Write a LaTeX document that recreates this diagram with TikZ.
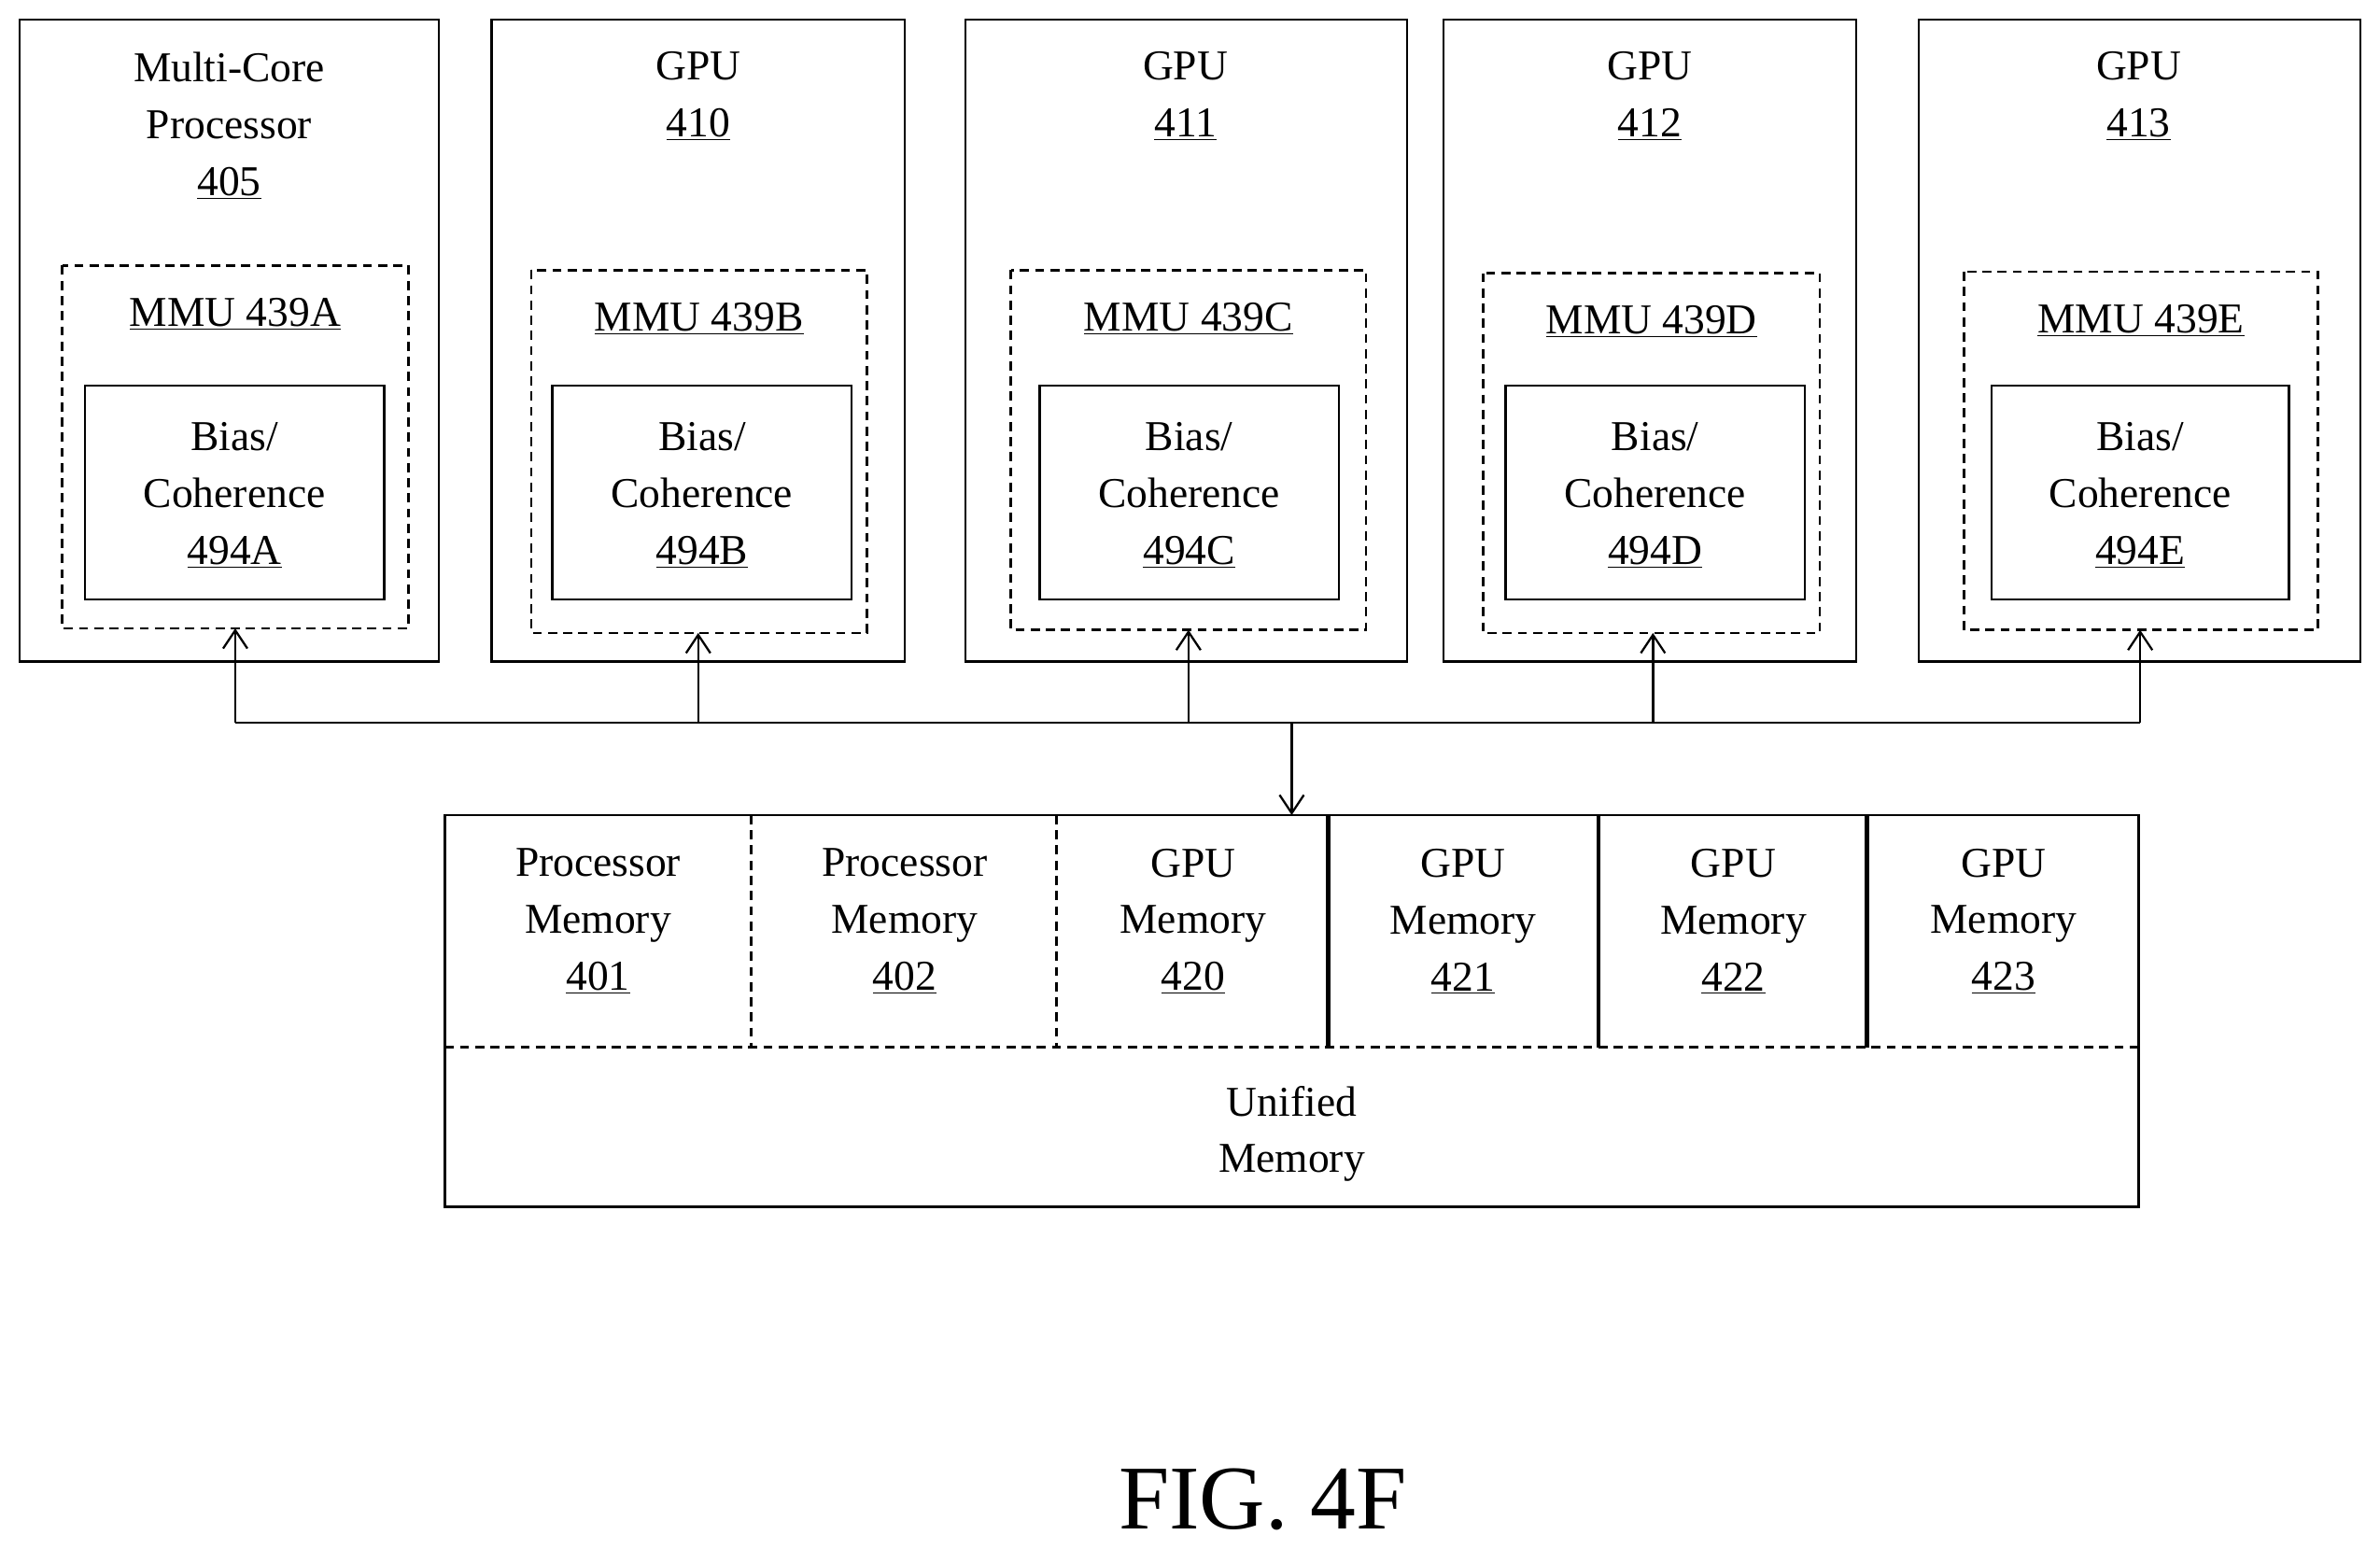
\documentclass[tikz,border=0pt]{standalone}
\usepackage{fontspec}
\setmainfont{Liberation Serif}
\usetikzlibrary{arrows.meta}
\begin{document}
\begin{tikzpicture}[x=1pt,y=-1pt,
  box/.style={draw,line width=1.6pt},
  dbox/.style={draw,line width=1.6pt,dash pattern=on 6pt off 4pt},
  txt/.style={font=\fontsize{28}{37.5}\selectfont,align=center,inner sep=0pt},
  arr/.style={line width=1.6pt,-{Straight Barb[length=12pt,width=16pt,line width=1.4pt]}}]
\useasboundingbox (0,0) rectangle (1568,1020);
% outer boxes
\foreach \n/\a/\b in {p/13/289,g0/324/596,g1/636/927,g2/951/1223,g3/1264/1555}
  \draw[box] (\a,13) rectangle (\b,436) coordinate (\n-br);
\node[txt,anchor=north] (tp) at (151,34) {Multi-Core\\Processor\\\underline{405}};
\node[txt,anchor=north] (t0) at (460,34) {GPU\\\underline{410}};
\node[txt,anchor=north] (t1) at (781,34) {GPU\\\underline{411}};
\node[txt,anchor=north] (t2) at (1087,34) {GPU\\\underline{412}};
\node[txt,anchor=north] (t3) at (1409,34) {GPU\\\underline{413}};
% MMUs
\foreach \n/\a/\b/\t/\bo/\L/\c in {A/41/269/175/414/A/155,B/350/571/178/417/B/460,C/666/900/178/415/C/783,D/977/1199/180/417/D/1089,E/1294/1527/179/415/E/1410}{
  \draw[dbox] (\a,\t) rectangle (\b,\bo);
  \coordinate (m\n) at (\c,\bo);
  \node[txt] (ml\n) at ({(\a+\b)/2},{\t+32}) {\underline{MMU 439\L}};
}
\foreach \n/\a/\b in {A/56/253,B/364/561,C/685/882,D/992/1189,E/1312/1508}{
  \draw[box] (\a,254) rectangle (\b,395);
  \node[txt] (bc\n) at ({(\a+\b)/2},326) {Bias/\\Coherence\\\underline{494\n}};
}
% bus
\coordinate (bA) at (155,476); \coordinate (bE) at (1410,476);
\draw[line width=1.6pt] (bA) -- (bE);
\foreach \n/\c in {A/155,B/460,C/783,D/1089,E/1410}
  \draw[arr] (\c,476) -- (m\n);
% memory
\draw[box] (293,537) coordinate (memtl) rectangle (1409,795);
\coordinate (memtop) at (851,537);
\draw[arr] (851,476) -- (memtop);
\draw[dbox] (293,690) -- (1409,690);
\draw[dbox] (495,537) -- (495,690);
\draw[dbox] (696,537) -- (696,690);
\foreach \x in {875,1053,1230} \draw[line width=2.6pt] (\x,537) -- (\x,690);
\node[txt] (m401) at (394,607) {Processor\\Memory\\\underline{401}};
\node[txt] (m402) at (596,607) {Processor\\Memory\\\underline{402}};
\node[txt] (m420) at (786,607) {GPU\\Memory\\\underline{420}};
\node[txt] (m421) at (964,607) {GPU\\Memory\\\underline{421}};
\node[txt] (m422) at (1142,607) {GPU\\Memory\\\underline{422}};
\node[txt] (m423) at (1320,607) {GPU\\Memory\\\underline{423}};
\node[txt] (um) at (851,747) {Unified\\Memory};
\node[inner sep=0pt,font=\fontsize{60}{62}\selectfont] (fig) at (832,988) {FIG. 4F};
\end{tikzpicture}
\end{document}
